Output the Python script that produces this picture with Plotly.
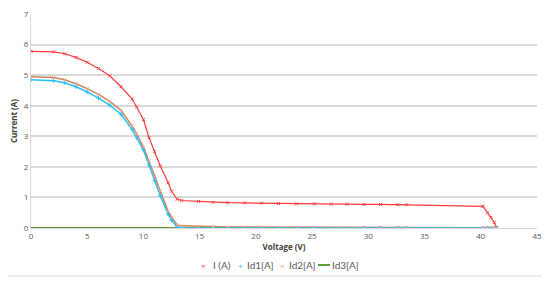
import plotly.graph_objects as go

# spenning (V)
voltage = [0, 2, 3, 4, 5, 6, 7, 8, 9, 9.4, 10, 10.5, 11, 11.5, 12.2, 12.5, 13, 13.4, 14.9,
           16.2, 17.5, 19, 20.5, 22, 23.6, 25.2, 26.7, 28.1, 29.6, 31.1, 32.6, 33.4,
           40.2, 40.6, 40.9, 41.2, 41.4]

i_a = [5.78, 5.76, 5.7, 5.58, 5.42, 5.22, 4.98, 4.62, 4.22, 3.95, 3.55, 2.95, 2.5, 2.03, 1.48, 1.2, 0.94, 0.9, 0.87,
       0.84, 0.83, 0.82, 0.81, 0.8, 0.79, 0.79, 0.78, 0.78, 0.77, 0.77, 0.76, 0.76,
       0.71, 0.5, 0.35, 0.18, 0.02]

id1 = [4.85, 4.82, 4.75, 4.62, 4.45, 4.25, 4.02, 3.72, 3.22, 2.95, 2.55, 2.05, 1.55, 1.05, 0.45, 0.25, 0.03, 0.0, 0.0,
       0, 0, 0, 0, 0, 0, 0, 0, 0, 0, 0, 0, 0,
       0, 0, 0, 0, 0]

id2 = [4.95, 4.92, 4.85, 4.72, 4.56, 4.37, 4.14, 3.85, 3.33, 3.08, 2.65, 2.2, 1.7, 1.2, 0.55, 0.35, 0.1, 0.07, 0.05,
       0.04, 0.03, 0.03, 0.03, 0.02, 0.02, 0.02, 0.02, 0.02, 0.02, 0.02, 0.02, 0.02,
       0.02, 0.01, 0.01, 0.0, 0.0]

id3 = [0] * len(voltage)

serier = [
    ("I (A)", i_a, "#ff3b3b", "#ff3b3b", "x-thin", 1.2, "×"),
    ("Id1[A]", id1, "#27c0f0", "#27c0f0", "cross-thin", 1.5, "+"),
    ("Id2[A]", id2, "#c8845e", "#f4a58a", "x-thin", 1.5, "×"),
]
grön = "#5a9e3c"

fig = go.Figure()
fig.add_trace(go.Scatter(x=voltage, y=id3, name="Id3[A]", mode="lines",
                         line=dict(color=grön, width=2)))
for namn, värden, linjefärg, markörfärg, symbol, bredd, tecken in reversed(serier):
    fig.add_trace(go.Scatter(x=voltage, y=värden, name=namn, mode="lines",
                             line=dict(color=linjefärg, width=bredd), hoverinfo="skip"))
for namn, värden, linjefärg, markörfärg, symbol, bredd, tecken in serier:
    fig.add_trace(go.Scatter(x=voltage, y=värden, name=namn, mode="markers",
                             marker=dict(symbol=symbol, size=3, color=markörfärg,
                                         line=dict(color=markörfärg, width=1))))

# plotområdet i sidans pixlar (sidan har 8 px marginal i body)
topp, botten = 14, 228


def px_x(p):
    return (p - 31) / 506


def px_y(p):
    return (botten - p) / (botten - topp)


leg_y = px_y(265)
legfont = dict(family="Lato, Open Sans, sans-serif", size=10, color="#595959")
annotationer = []
for (namn, värden, linjefärg, markörfärg, symbol, bredd, tecken), mx, tx in zip(
        serier, [203, 240, 282], [211, 245, 287]):
    annotationer.append(dict(x=px_x(mx), y=leg_y, xref="paper", yref="paper", text=tecken,
                             showarrow=False, xanchor="center", yanchor="middle",
                             font=dict(size=8, color=markörfärg)))
    annotationer.append(dict(x=px_x(tx), y=leg_y, xref="paper", yref="paper", text=namn,
                             showarrow=False, xanchor="left", yanchor="middle", font=legfont))
annotationer.append(dict(x=px_x(330), y=leg_y, xref="paper", yref="paper", text="Id3[A]",
                         showarrow=False, xanchor="left", yanchor="middle", font=legfont))

fig.update_layout(
    width=542, height=273,
    margin=dict(l=23, r=13, t=topp - 8, b=281 - botten, autoexpand=False),
    paper_bgcolor="white", plot_bgcolor="white",
    font=dict(family="Open Sans, Liberation Sans, sans-serif", size=8, color="#595959"),
    showlegend=False,
    annotations=annotationer,
    shapes=[dict(type="line", xref="paper", yref="paper", x0=px_x(318), x1=px_x(330), y0=leg_y, y1=leg_y,
                 line=dict(color=grön, width=2)),
            dict(type="line", xref="paper", yref="paper", x0=px_x(546), x1=px_x(546), y0=px_y(276), y1=px_y(4),
                 line=dict(color="#d9d9d9", width=1)),
            dict(type="line", xref="paper", yref="paper", x0=px_x(0), x1=px_x(546), y0=px_y(276), y1=px_y(276),
                 line=dict(color="#d9d9d9", width=1))],
)
fig.update_xaxes(range=[0, 45], dtick=5, showgrid=False, zeroline=False, automargin=False,
                 showline=True, linecolor="#d9d9d9", ticklabeloverflow="allow",
                 title=dict(text="<b>Voltage (V)</b>", font=dict(size=8, color="#404040"), standoff=4))
fig.update_yaxes(range=[0, 7], dtick=1, showgrid=True, gridcolor="#d9d9d9", gridwidth=1.5,
                 zeroline=False, automargin=False, showline=True, linecolor="#d9d9d9",
                 ticklabeloverflow="allow",
                 title=dict(text="<b>Current (A)</b>", font=dict(size=8, color="#404040"), standoff=10))

fig.write_html("out.html")
